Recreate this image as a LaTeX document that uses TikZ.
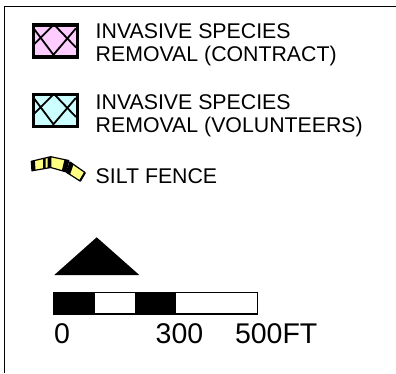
\documentclass[tikz,border=0pt]{standalone}
\usepackage{fontspec}
\setmainfont{Liberation Sans}
\usetikzlibrary{calc}
\definecolor{contractpink}{RGB}{255,204,255}
\definecolor{volcyan}{RGB}{204,255,255}
\definecolor{fenceyellow}{RGB}{255,255,130}
\tikzset{
  legendtext/.style={anchor=base west, inner sep=0pt, font=\fontsize{21.3}{23.3}\selectfont},
  scaletext/.style={anchor=base west, inner sep=0pt, font=\fontsize{28.5}{32}\selectfont},
  hatchbox/.style={draw, line width=2.2pt, rectangle, minimum width=43pt, minimum height=31pt, inner sep=0pt},
  hatchline/.style={line width=1.8pt},
  fencepiece/.style={fill=fenceyellow, draw=black, line width=1.2pt, line join=round},
  fencestripe/.style={fill=black},
  frameline/.style={line width=1.4pt}
}
\begin{document}
\begin{tikzpicture}[x=1pt, y=-1pt]
\useasboundingbox (0,0) rectangle (396,373);
% frame
\draw[frameline] (4.7,373) -- (4.7,6.7) -- (396,6.7);
% legend boxes
\node[hatchbox, fill=contractpink] (pinkbox) at (55.5,41) {};
\node[hatchbox, fill=volcyan] (cyanbox) at (55.5,110.5) {};
\foreach \b in {pinkbox,cyanbox}{
  \draw[hatchline] ($(\b.north west)+(0,3)$) -- ($(\b.north west)+(21,31)$)
    ($(\b.north west)+(21,0)$) -- ($(\b.north west)+(43,23)$)
    ($(\b.north west)+(21,0)$) -- ($(\b.north west)+(0,21)$)
    ($(\b.north west)+(43,4)$) -- ($(\b.north west)+(20,31)$);
  \draw[line width=2.2pt] (\b.north west) rectangle (\b.south east);
}
% legend text
\node[legendtext] (t1a) at (95.5,38) {INVASIVE SPECIES};
\node[legendtext] (t1b) at (95.5,61.3) {REMOVAL (CONTRACT)};
\node[legendtext] (t2a) at (95.5,109.2) {INVASIVE SPECIES};
\node[legendtext] (t2b) at (95.5,132.3) {REMOVAL (VOLUNTEERS)};
\node[legendtext] (t3) at (95.5,183.3) {SILT FENCE};
% silt fence symbol
\path[fencepiece] (31.3,161.3) -- (50.7,156.7) -- (50.7,167.5) -- (32,170.8) -- cycle;
\fill[fencestripe] (31.3,161.3) -- (34.9,160.5) -- (35.5,170.2) -- (32,170.8) -- cycle;
\fill[fencestripe] (43,158.5) -- (45.5,158) -- (45.5,168.5) -- (43,168.9) -- cycle;
\fill[fencestripe] (47.6,157.4) -- (50.7,156.7) -- (50.7,167.5) -- (47.6,168) -- cycle;
\path[fencepiece] (50.7,156.7) -- (68.8,160.5) -- (65.8,171.8) -- (50.7,167.5) -- cycle;
\fill[fencestripe] (64.5,159.7) -- (68.8,160.5) -- (65.8,171.8) -- (61.8,170.6) -- cycle;
\path[fencepiece] (70,162) -- (85,172.5) -- (80,181) -- (66.5,172.3) -- cycle;
\fill[fencestripe] (70,162) -- (73.5,164.5) -- (70,174.6) -- (66.5,172.3) -- cycle;
\draw[line width=2pt] (85,172.5) -- (80,181);
% north arrow
\fill (96.7,237.3) -- (139.3,275) -- (54.3,275) -- cycle;
% scale bar
\fill (53.3,292.7) rectangle (95,314);
\fill (135,292.7) rectangle (176,314);
\draw[line width=1.5pt] (53.3,292.7) rectangle (257.3,314);
\node[scaletext] (s0) at (53.8,343) {0};
\node[scaletext] (s300) at (155.5,343) {300};
\node[scaletext] (s500) at (234.8,343) {500FT};
\end{tikzpicture}
\end{document}
